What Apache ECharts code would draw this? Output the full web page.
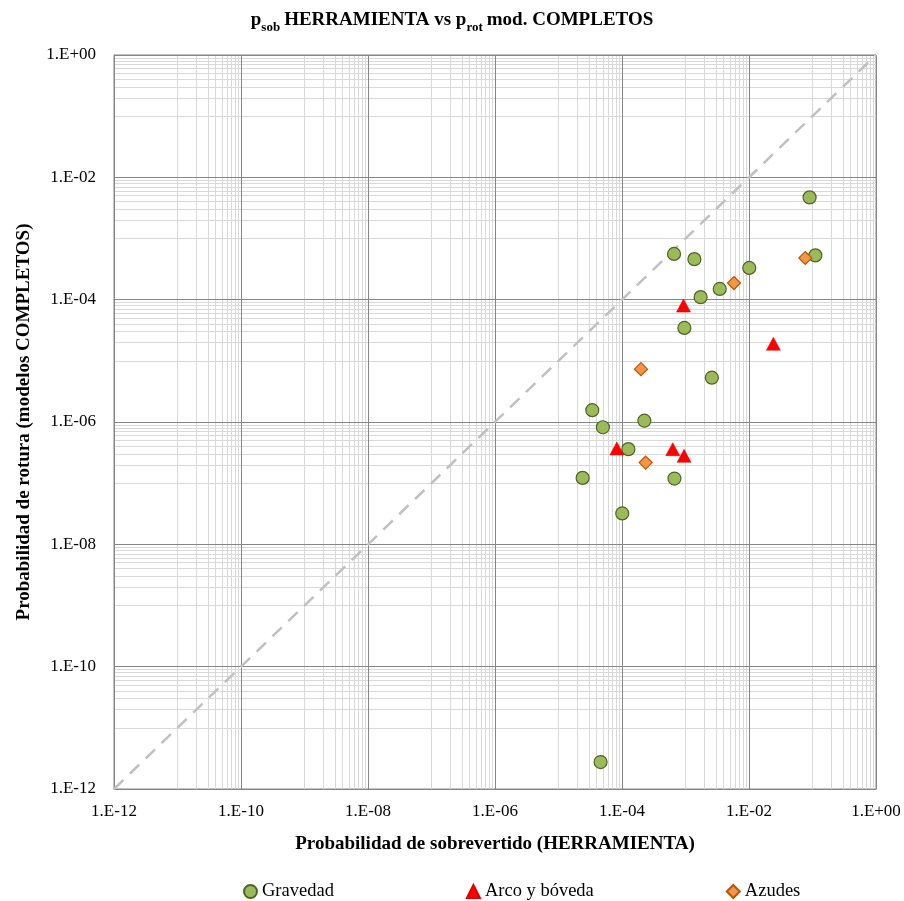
<!DOCTYPE html>
<html>
<head>
<meta charset="utf-8">
<script src="https://cdn.jsdelivr.net/npm/echarts@6/dist/echarts.min.js"></script>
<style>html,body{margin:0;padding:0;background:#fff}#c{width:904px;height:901px}</style>
</head>
<body>
<div id="c"></div>
<script>
// ---- data ----
const gravedadX = [0.090, 6.6e-4, 1.38e-3, 0.0101, 0.111, 3.46e-3, 1.73e-3, 9.6e-4, 2.6e-3, 3.4e-5, 2.25e-4, 5.0e-5, 1.26e-4, 2.4e-5, 6.7e-4, 1.01e-4, 4.6e-5];
const gravedadY = [4.7e-3, 5.6e-4, 4.6e-4, 3.3e-4, 5.3e-4, 1.5e-4, 1.1e-4, 3.45e-5, 5.3e-6, 1.56e-6, 1.05e-6, 8.2e-7, 3.6e-7, 1.22e-7, 1.19e-7, 3.2e-8, 2.76e-12];
const arcoX = [9.3e-4, 0.0242, 8.3e-5, 6.3e-4, 9.5e-4];
const arcoY = [8.0e-5, 1.9e-5, 3.7e-7, 3.6e-7, 2.8e-7];
const azudesX = [0.077, 5.8e-3, 1.99e-4, 2.36e-4];
const azudesY = [4.8e-4, 1.87e-4, 7.3e-6, 2.17e-7];
const diagX = [1e-12, 1];
const diagY = [1e-12, 1];
const seriesNames = ['Gravedad', 'Arco y bóveda', 'Azudes'];
const axisMin = 1e-12, axisMax = 1;

// grid line positions (axis structure)
const majorVals = [];
for (let e = -12; e <= 0; e += 2) majorVals.push(Math.pow(10, e));
const minorVals = [];
for (let e = -11; e <= -1; e += 2) for (let k = 1; k <= 9; k++) minorVals.push(k * Math.pow(10, e));

const FONT = '"Liberation Serif", "DejaVu Serif", serif';
const zip = (a, b) => a.map((v, i) => [v, b[i]]);
const fmt = v => {
  const e = Math.round(Math.log10(v));
  return '1.E' + (e < 0 ? '-' : '+') + String(Math.abs(e)).padStart(2, '0');
};
const gridSegs = vals => vals.map(v => ({coords: [[v, axisMin], [v, axisMax]]}))
  .concat(vals.map(v => ({coords: [[axisMin, v], [axisMax, v]]})));

const chart = echarts.init(document.getElementById('c'), null, {renderer: 'canvas'});
chart.setOption({
  animation: false,
  backgroundColor: '#fff',
  title: {
    text: '{a|p}{s|sob}{a|HERRAMIENTA vs p}{s|rot}{a|mod. COMPLETOS}',
    left: 'center', top: 6,
    textStyle: {
      rich: {
        a: {fontFamily: FONT, fontSize: 19, fontWeight: 'bold', color: '#000', verticalAlign: 'bottom'},
        s: {fontFamily: FONT, fontSize: 13, fontWeight: 'bold', color: '#000', verticalAlign: 'bottom', padding: [0, 4, -4, 0]}
      }
    }
  },
  legend: {
    data: seriesNames,
    bottom: -5, left: 238,
    itemGap: 132, itemWidth: 13, itemHeight: 13,
    textStyle: {fontFamily: FONT, fontSize: 18.5, color: '#000'}
  },
  grid: {left: 114, right: 28, top: 55, bottom: 112, show: true, borderColor: '#868686', borderWidth: 1},
  xAxis: {
    type: 'log', logBase: 10, min: axisMin, max: axisMax, interval: 2,
    name: 'Probabilidad de sobrevertido (HERRAMIENTA)', nameLocation: 'middle', nameGap: 46,
    nameTextStyle: {fontFamily: FONT, fontSize: 19, fontWeight: 'bold', color: '#000'},
    axisLine: {show: true, lineStyle: {color: '#868686'}},
    axisTick: {show: false},
    axisLabel: {formatter: fmt, fontFamily: FONT, fontSize: 17, color: '#000', margin: 14},
    splitLine: {show: false}, minorSplitLine: {show: false}
  },
  yAxis: {
    type: 'log', logBase: 10, min: axisMin, max: axisMax, interval: 2,
    name: 'Probabilidad de rotura (modelos COMPLETOS)', nameLocation: 'middle', nameGap: 80,
    nameTextStyle: {fontFamily: FONT, fontSize: 19, fontWeight: 'bold', color: '#000'},
    axisLine: {show: true, lineStyle: {color: '#868686'}},
    axisTick: {show: false},
    axisLabel: {formatter: fmt, fontFamily: FONT, fontSize: 17, color: '#000', margin: 18},
    splitLine: {show: false}, minorSplitLine: {show: false}
  },
  series: [
    {
      type: 'lines', name: '_minor', coordinateSystem: 'cartesian2d', silent: true, z: 1,
      polyline: false, symbol: 'none',
      lineStyle: {color: '#d9d9d9', width: 1, opacity: 1, curveness: 0},
      data: gridSegs(minorVals)
    },
    {
      type: 'lines', name: '_major', coordinateSystem: 'cartesian2d', silent: true, z: 1,
      polyline: false, symbol: 'none',
      lineStyle: {color: '#868686', width: 1, opacity: 1, curveness: 0},
      data: gridSegs(majorVals)
    },
    {
      type: 'line', name: '_diag', data: zip(diagX, diagY), showSymbol: false, symbol: 'none', silent: true, z: 2,
      lineStyle: {color: '#c0c0c0', width: 2.5, type: [13, 9]}
    },
    {
      type: 'scatter', name: seriesNames[0], data: zip(gravedadX, gravedadY), z: 5,
      symbol: 'circle', symbolSize: 13,
      itemStyle: {color: '#9bbb59', borderColor: '#4f6228', borderWidth: 1.2, opacity: 1}
    },
    {
      type: 'scatter', name: seriesNames[1], data: zip(arcoX, arcoY), z: 5,
      symbol: 'triangle', symbolSize: [14, 13],
      itemStyle: {color: '#ff0000', borderColor: '#e00000', borderWidth: 0.5, opacity: 1}
    },
    {
      type: 'scatter', name: seriesNames[2], data: zip(azudesX, azudesY), z: 5,
      symbol: 'diamond', symbolSize: 13,
      itemStyle: {color: '#f79646', borderColor: '#b65708', borderWidth: 1.2, opacity: 1}
    }
  ]
});
</script>
</body>
</html>
